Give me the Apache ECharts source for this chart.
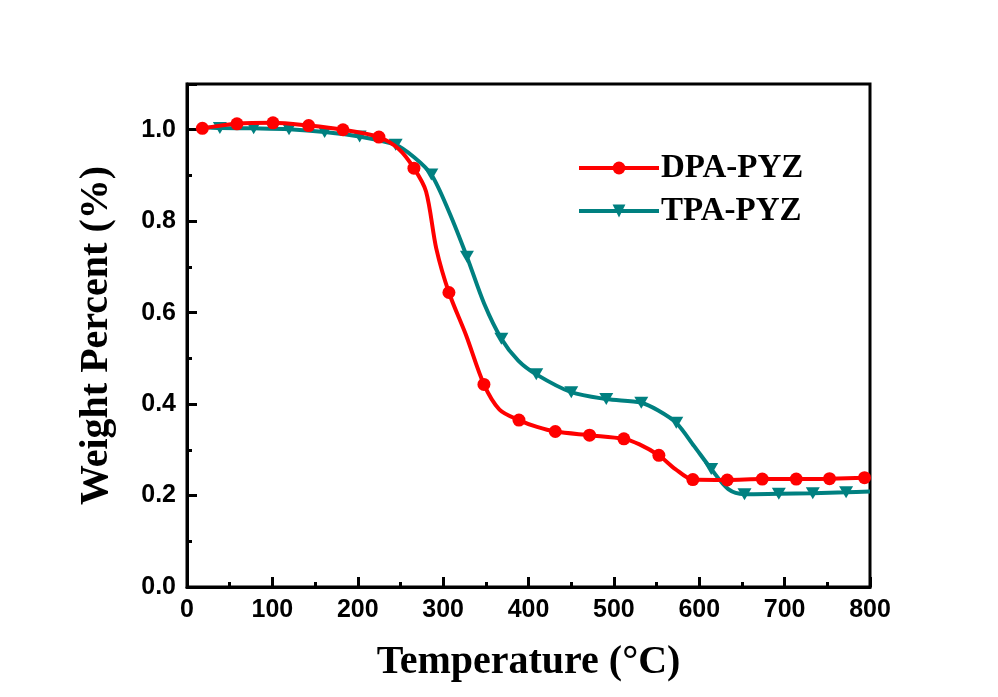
<!DOCTYPE html>
<html>
<head>
<meta charset="utf-8">
<script src="https://cdn.jsdelivr.net/npm/echarts@6/dist/echarts.min.js"></script>
<style>
  html, body { margin: 0; padding: 0; background: #ffffff; }
  #chart { width: 998px; height: 697px; }
</style>
</head>
<body>
<div id="chart"></div>
<script>
// TGA curves: temperature (°C) vs. weight fraction
const seriesNames = ['DPA-PYZ', 'TPA-PYZ'];

const dpaTemp = [18, 58.5, 100.7, 142.5, 182.7, 224.8, 248, 265.8, 280, 292, 306.8, 327, 347.8, 366, 388.8, 410, 431.4, 471.5, 511.7, 530, 552.7, 572, 592.5, 632.8, 673.8, 713.6, 752.6, 793.6, 800];
const dpaWeight = [1.003, 1.013, 1.015, 1.009, 1.000, 0.984, 0.958, 0.916, 0.865, 0.740, 0.644, 0.550, 0.443, 0.388, 0.365, 0.350, 0.340, 0.332, 0.324, 0.312, 0.288, 0.258, 0.235, 0.234, 0.236, 0.236, 0.237, 0.239, 0.240];
const dpaMarkerTemp = [18, 58.5, 100.7, 142.5, 182.7, 224.8, 265.8, 306.8, 347.8, 388.8, 431.4, 471.5, 511.7, 552.7, 592.5, 632.8, 673.8, 713.6, 752.6, 793.6];

const tpaTemp = [25, 38.5, 78.1, 119.5, 161.2, 202.2, 244.4, 266, 286.2, 307, 327.9, 348, 368.2, 388, 409.1, 450.1, 491.1, 532.1, 552, 573.1, 594, 614, 634, 653, 693.2, 733, 772, 800];
const tpaWeight = [1.005, 1.004, 1.003, 1.001, 0.995, 0.985, 0.967, 0.940, 0.902, 0.820, 0.722, 0.620, 0.543, 0.495, 0.465, 0.426, 0.411, 0.403, 0.386, 0.359, 0.308, 0.258, 0.214, 0.203, 0.204, 0.205, 0.207, 0.209];
const tpaMarkerTemp = [38.5, 78.1, 119.5, 161.2, 202.2, 244.4, 286.2, 327.9, 368.2, 409.1, 450.1, 491.1, 532.1, 573.1, 614, 653, 693.2, 733, 772];

const xTicks = { min: 0, max: 800, interval: 100 };
const yTicks = { min: 0, max: 1.1, interval: 0.2 };

// Points carry a marker only at the sampled temperatures
function buildPoints(temps, weights, markerTemps, markerSymbol) {
  const marked = new Set(markerTemps);
  return temps.map((t, i) => ({
    value: [t, weights[i]],
    symbol: marked.has(t) ? markerSymbol : 'none'
  }));
}

const chart = echarts.init(document.getElementById('chart'));

const axisFont = { fontFamily: 'Liberation Sans, Arial, sans-serif', fontWeight: 'bold', fontSize: 25, color: '#000' };
const titleFont = { fontFamily: 'Liberation Serif, Times New Roman, serif', fontWeight: 'bold', fontSize: 40, color: '#000' };

chart.setOption({
  backgroundColor: '#ffffff',
  animation: false,
  grid: {
    left: 187, right: 128, top: 84, bottom: 110,
    show: true, borderColor: '#000', borderWidth: 3, backgroundColor: 'transparent'
  },
  legend: {
    data: seriesNames,
    orient: 'vertical',
    left: 572,
    top: 145,
    itemWidth: 80,
    itemHeight: 16,
    itemGap: 7,
    lineStyle: { width: 4 },
    textStyle: {
      fontFamily: 'Liberation Serif, Times New Roman, serif',
      fontWeight: 'bold',
      fontSize: 33,
      lineHeight: 36,
      color: '#000',
      padding: [0, 0, 0, -3]
    }
  },
  xAxis: {
    type: 'value',
    min: xTicks.min, max: xTicks.max, interval: xTicks.interval,
    name: 'Temperature (°C)',
    nameLocation: 'middle',
    nameGap: 56,
    nameTextStyle: titleFont,
    axisLine: { show: true, lineStyle: { color: '#000', width: 3 } },
    axisTick: { show: true, inside: true, length: 10, lineStyle: { color: '#000', width: 3 } },
    minorTick: { show: true, splitNumber: 2, length: 5, lineStyle: { color: '#000', width: 3 } },
    axisLabel: Object.assign({ margin: 11 }, axisFont),
    splitLine: { show: false }
  },
  yAxis: {
    type: 'value',
    min: yTicks.min, max: yTicks.max, interval: yTicks.interval,
    name: 'Weight Percent (%)',
    nameLocation: 'middle',
    nameGap: 70,
    nameTextStyle: titleFont,
    axisLine: { show: true, lineStyle: { color: '#000', width: 3 } },
    axisTick: { show: true, inside: true, length: 10, lineStyle: { color: '#000', width: 3 } },
    minorTick: { show: true, splitNumber: 2, length: 5, lineStyle: { color: '#000', width: 3 } },
    axisLabel: Object.assign({
      margin: 11,
      showMaxLabel: false,
      formatter: v => v.toFixed(1)
    }, axisFont),
    splitLine: { show: false }
  },
  series: [
    {
      name: seriesNames[0],
      type: 'line',
      smooth: 0.3,
      symbol: 'circle',
      symbolSize: 13,
      color: '#ff0000',
      lineStyle: { color: '#ff0000', width: 4 },
      itemStyle: { color: '#ff0000' },
      data: buildPoints(dpaTemp, dpaWeight, dpaMarkerTemp, 'circle'),
      z: 3
    },
    {
      name: seriesNames[1],
      type: 'line',
      smooth: 0.3,
      symbol: 'triangle',
      symbolRotate: 180,
      symbolSize: [14, 12],
      color: '#008080',
      lineStyle: { color: '#008080', width: 4 },
      itemStyle: { color: '#008080' },
      data: buildPoints(tpaTemp, tpaWeight, tpaMarkerTemp, 'triangle'),
      z: 2
    }
  ]
});
</script>
</body>
</html>
